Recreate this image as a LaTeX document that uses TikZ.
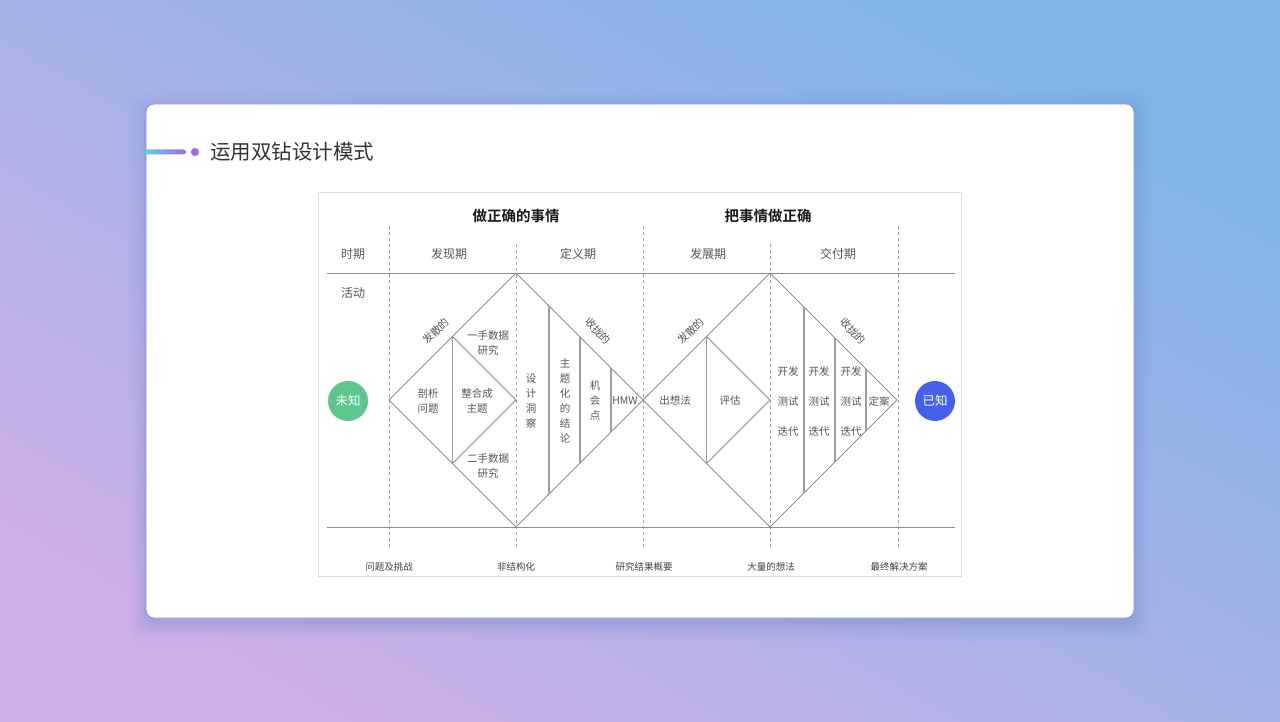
\documentclass[tikz,border=0pt]{standalone}
\usepackage{fontspec}
\newfontfamily\cjk{Noto Sans CJK SC}[BoldFont={Noto Sans CJK SC Bold}]
\usetikzlibrary{calc}
\usetikzlibrary{positioning}
\definecolor{bgpurple}{HTML}{CCB0E6}
\definecolor{bgblue}{HTML}{80B4E8}
\definecolor{shadowcol}{HTML}{5068C8}
\definecolor{titlecyan}{HTML}{5CD0F0}
\definecolor{titlepurple}{HTML}{A068E8}
\definecolor{framecol}{HTML}{DCDCDC}
\definecolor{linecol}{HTML}{8C8C8C}
\definecolor{dotcol}{HTML}{A0A0A0}
\definecolor{labelcol}{HTML}{555555}
\definecolor{unknowngreen}{HTML}{5CC68E}
\definecolor{knownblue}{HTML}{4560EA}
\tikzset{
    every node/.style={font=\cjk, inner sep=0pt, text=labelcol},
    head label/.style={font=\cjk\bfseries\fontsize{14.5}{16}\selectfont, text=black!90},
    period label/.style={font=\cjk\fontsize{12}{14}\selectfont},
    act label/.style={font=\cjk\fontsize{10.5}{15}\selectfont, align=center},
    tilt label/.style={font=\cjk\fontsize{10.5}{12}\selectfont, inner sep=1pt},
    step column/.style={font=\cjk\fontsize{10.5}{30}\selectfont, align=center},
    out label/.style={font=\cjk\fontsize{9.5}{11}\selectfont, text=black!75},
    state circle/.style={circle, minimum size=40pt, text=white, font=\cjk\fontsize{12.5}{14}\selectfont}
}

\begin{document}
\begin{tikzpicture}[
            x = 1pt, y = -1pt, % one unit per pixel, y downwards
            dia/.style = {draw = linecol, line width = 0.9pt}, % diamond outlines
            split/.style = {draw = linecol!85, line width = 1.1pt}, % inner vertical strokes
            semithick
        ]
        \useasboundingbox (0,0) rectangle (1280,722);

        % backdrop
        \shade[left color = bgpurple, right color = bgblue, shading angle = 150] (0,0) rectangle (1280,722);

        % card
        \foreach \s/\o in {18/0.025, 13/0.035, 9/0.045, 5/0.06, 2/0.08}
            \fill[shadowcol, opacity = \o, rounded corners = 12pt] (146-\s,104-\s+5) rectangle (1134+\s,618+\s+5);
        \draw[shadowcol!70, fill = white, line width = 0.8pt, rounded corners = 8pt] (146,104) rectangle (1134,618);

        % title
        \shade[left color = titlecyan, right color = titlepurple, rounded corners = 2.5pt] (145,149.5) rectangle (186,154.5);
        \fill[titlepurple] (195,152) circle (4);
        \node[anchor = west, text = black!80, font = \cjk\fontsize{20.5}{24}\selectfont] (title) at (210,152) {运用双钻设计模式};

        % frame
        \draw[framecol, fill = white] (318.5,192.5) rectangle (961.5,576.5);

        % phase borders
        \foreach \x in {389,643,898}
            \draw[dotcol, line width = 1pt, dash pattern = on 3pt off 3pt] (\x,226) -- (\x,547);
        \foreach \x in {516,770}
            \draw[dotcol, line width = 1pt, dash pattern = on 3pt off 3pt] (\x,244) -- (\x,547);
        \draw[linecol, line width = 0.9pt] (327,273) -- (955,273);
        \draw[linecol, line width = 0.9pt] (327,527) -- (955,527);

        % headings
        \node[head label] (right thing) at (516,216) {做正确的事情};
        \node[head label] (thing right) at (768,216) {把事情做正确};
        \node[period label] (period) at (353,254) {时期};
        \node[period label] (discover) at (449,254) {发现期};
        \node[period label] (define) at (578,254) {定义期};
        \node[period label] (develop) at (708,254) {发展期};
        \node[period label] (deliver) at (838,254) {交付期};
        \node[period label] (activity) at (353,293) {活动};

        % first diamond
        \coordinate (aL) at (389,400);
        \coordinate (aT) at (516,273);
        \coordinate (aR) at (643,400);
        \coordinate (aB) at (516,527);
        \coordinate (aM) at (516,400);
        \coordinate (aiT) at (452.5,336.5);
        \coordinate (aiB) at (452.5,463.5);
        \draw[dia] (aL) -- (aT) -- (aR) -- (aB) -- cycle;
        \draw[dia] (aiT) -- (aM) -- (aiB);
        \draw[split] (aiT) -- (aiB);
        \draw[split] (549,306) -- (549,494);
        \draw[split] (580,337) -- (580,463);
        \draw[split] (611,368) -- (611,432);

        \node[tilt label, rotate = 45] (div a) at (436,331) {发散的};
        \node[tilt label, rotate = -45] (conv a) at (598,331) {收拢的};
        \node[act label] (first hand) at (488,343) {一手数据\\研究};
        \node[act label] (dissect) at (428,401) {剖析\\问题};
        \node[act label] (merge) at (477,401) {整合成\\主题};
        \node[act label] (second hand) at (488,466) {二手数据\\研究};
        \node[act label] (insight) at (531,401) {设\\计\\洞\\察};
        \node[act label] (themes) at (565,401) {主\\题\\化\\的\\结\\论};
        \node[act label] (chance) at (595,401) {机\\会\\点};
        \node[act label] (hmw) at (625,401) {HMW};

        % second diamond
        \coordinate (bL) at (643,400);
        \coordinate (bT) at (770,273);
        \coordinate (bR) at (897,400);
        \coordinate (bB) at (770,527);
        \coordinate (bM) at (770,400);
        \coordinate (biT) at (706.5,336.5);
        \coordinate (biB) at (706.5,463.5);
        \draw[dia] (bL) -- (bT) -- (bR) -- (bB) -- cycle;
        \draw[dia] (biT) -- (bM) -- (biB);
        \draw[split] (biT) -- (biB);
        \draw[split] (804,307) -- (804,493);
        \draw[split] (835,338) -- (835,462);
        \draw[split] (866,369) -- (866,431);

        \node[tilt label, rotate = 45] (div b) at (691,331) {发散的};
        \node[tilt label, rotate = -45] (conv b) at (853,331) {收拢的};
        \node[act label] (ideas) at (675,401) {出想法};
        \node[act label] (judge) at (730,401) {评估};
        \node[step column] (loop a) at (788,401) {开发\\测试\\迭代};
        \node[step column] (loop b) at (819,401) {开发\\测试\\迭代};
        \node[step column] (loop c) at (851,401) {开发\\测试\\迭代};
        \node[act label] (final) at (879,401) {定案};

        % start and end
        \node[state circle, fill = unknowngreen] (unknown) at (348,401) {未知};
        \node[state circle, fill = knownblue] (known) at (935,401) {已知};

        % outcomes
        \node[out label] (problems) at (389,567) {问题及挑战};
        \node[out label] (unstructured) at (516,567) {非结构化};
        \node[out label] (summary) at (644,567) {研究结果概要};
        \node[out label] (many ideas) at (771,567) {大量的想法};
        \node[out label] (solution) at (899,567) {最终解决方案};

  \end{tikzpicture}
\end{document}
